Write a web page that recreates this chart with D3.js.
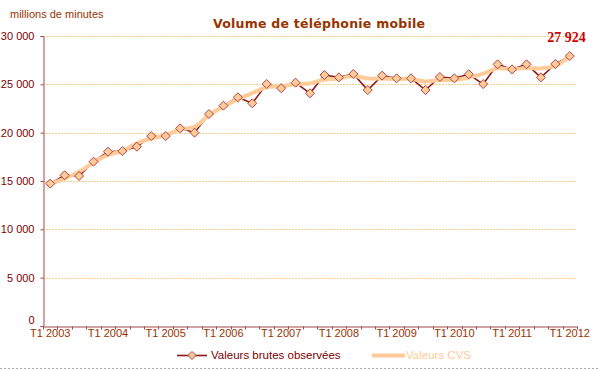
<!DOCTYPE html>
<html><head><meta charset="utf-8">
<script src="https://cdn.jsdelivr.net/npm/d3@7"></script>
<style>
html,body{margin:0;padding:0;background:#fff;}
svg{display:block;}
text{font-family:"Liberation Sans",Arial,sans-serif;}
</style></head>
<body>
<svg id="chart" width="598" height="370"></svg>
<script>
const categories = [
 "T1 2003","T2 2003","T3 2003","T4 2003",
 "T1 2004","T2 2004","T3 2004","T4 2004",
 "T1 2005","T2 2005","T3 2005","T4 2005",
 "T1 2006","T2 2006","T3 2006","T4 2006",
 "T1 2007","T2 2007","T3 2007","T4 2007",
 "T1 2008","T2 2008","T3 2008","T4 2008",
 "T1 2009","T2 2009","T3 2009","T4 2009",
 "T1 2010","T2 2010","T3 2010","T4 2010",
 "T1 2011","T2 2011","T3 2011","T4 2011",
 "T1 2012"];
const rawValues = [14730,15590,15520,17000,18030,18100,18550,19650,19650,20450,20000,21930,22790,23660,23040,25030,24600,25170,24070,25960,25720,26070,24410,25900,25620,25620,24410,25760,25620,26040,25030,27070,26550,27070,25720,27100,27924];
const cvsValues = [14700,15250,15950,16900,17700,18100,18900,19400,19750,20350,20600,21800,22700,23450,24100,24700,24800,25000,25100,25500,25600,25860,25600,25600,25550,25550,25300,25450,25450,25700,26100,26650,26550,26700,26650,26900,27924];
const yTicks = [0,5000,10000,15000,20000,25000,30000];
const title = "Volume de téléphonie mobile";
const yUnit = "millions de minutes";
const lastLabel = "27 924";
const legendNames = ["Valeurs brutes observées","Valeurs CVS"];

const svg = d3.select("#chart");
const pL = 43, pR = 577, pT = 36, pB = 326;
const x = d3.scaleBand().domain(categories).range([pL, pR]).padding(0);
const y = d3.scaleLinear().domain([0, 30000]).range([pB, pT]);
const cx = c => x(c) + x.bandwidth() / 2;
const fmt = v => d3.format(",")(v).replace(/,/g, " ");

// gridlines
svg.append("g").selectAll("line").data(yTicks.filter(v => v > 0)).join("line")
  .attr("x1", pL).attr("x2", pR)
  .attr("y1", d => Math.round(y(d)) + 0.5).attr("y2", d => Math.round(y(d)) + 0.5)
  .attr("stroke", "#FFCC88").attr("stroke-width", 1).attr("stroke-dasharray", "2,1");

// y axis
const ya = svg.append("g").attr("transform", `translate(${pL + 0.5},0)`)
  .call(d3.axisLeft(y).tickValues(yTicks).tickSize(3).tickPadding(6).tickFormat(fmt));
ya.select(".domain").attr("stroke", "#A04848");
ya.selectAll(".tick line").attr("stroke", "#A04848");
ya.selectAll(".tick text").attr("fill", "#800000").style("font-size", "11px")
  .style("font-family", "Liberation Sans, Arial, sans-serif");
ya.selectAll(".tick text").filter(d => d === 0).attr("dy", "-0.2em");

// x axis
const xa = svg.append("g").attr("transform", `translate(0,${pB + 0.5})`)
  .call(d3.axisBottom(x).tickValues(categories.filter(c => c.startsWith("T1"))).tickSize(0).tickPadding(3));
xa.select(".domain").attr("stroke", "#A04848");
xa.selectAll(".tick text").attr("fill", "#993300").style("font-size", "11px")
  .style("font-family", "Liberation Sans, Arial, sans-serif");
xa.selectAll(".bt").data(categories.map(c => x(c)).concat([pR])).join("line")
  .attr("class", "bt")
  .attr("x1", d => Math.round(d) + 0.5).attr("x2", d => Math.round(d) + 0.5)
  .attr("y1", 0).attr("y2", 3).attr("stroke", "#A04848");

// raw line
const lineRaw = d3.line().x((d, i) => cx(categories[i])).y(d => y(d));
svg.append("path").datum(rawValues).attr("d", lineRaw)
  .attr("fill", "none").attr("stroke", "#8B1A1A").attr("stroke-width", 1.6);

// CVS smoothed line
const lineCvs = d3.line().x((d, i) => cx(categories[i])).y(d => y(d)).curve(d3.curveCatmullRom.alpha(0.5));
svg.append("path").datum(cvsValues).attr("d", lineCvs)
  .attr("fill", "none").attr("stroke", "#FFCC99").attr("stroke-width", 4).attr("stroke-linejoin", "round");

// markers
svg.append("g").selectAll("path").data(rawValues).join("path")
  .attr("transform", (d, i) => `translate(${cx(categories[i])},${y(d)})`)
  .attr("d", "M0,-4.5L4.5,0L0,4.5L-4.5,0Z")
  .attr("fill", "#FFCC99").attr("stroke", "#B04444").attr("stroke-width", 1);

// last value label
svg.append("text").attr("x", cx(categories[categories.length - 1]) + 16).attr("y", 42)
  .attr("text-anchor", "end").attr("fill", "#CC0000")
  .style("font-family", "Liberation Serif, Times New Roman, serif").style("font-weight", "bold").style("font-size", "14px")
  .text(lastLabel);

// title
svg.append("text").attr("x", 213).attr("y", 28).attr("fill", "#993300")
  .style("font-family", "DejaVu Sans, Verdana, sans-serif").style("font-weight", "bold").style("font-size", "12.5px")
  .attr("textLength", 212).attr("lengthAdjust", "spacing")
  .text(title);

// unit
svg.append("text").attr("x", 10).attr("y", 18).attr("fill", "#993300").style("font-size", "11px").text(yUnit);

// legend
const ly = 355;
const lg = svg.append("g");
lg.append("line").attr("x1", 177).attr("x2", 207).attr("y1", ly + 0.5).attr("y2", ly + 0.5)
  .attr("stroke", "#8B1A1A").attr("stroke-width", 1.6);
lg.append("path").attr("transform", `translate(192,${ly + 0.5})`).attr("d", "M0,-4L4,0L0,4L-4,0Z")
  .attr("fill", "#FFCC99").attr("stroke", "#B04444");
lg.append("text").attr("x", 211).attr("y", ly + 4).attr("fill", "#800000").style("font-size", "11.5px").text(legendNames[0]);
lg.append("line").attr("x1", 372).attr("x2", 405).attr("y1", ly + 0.5).attr("y2", ly + 0.5)
  .attr("stroke", "#FFCC99").attr("stroke-width", 4);
lg.append("text").attr("x", 406).attr("y", ly + 4).attr("fill", "#FFCC99").style("font-size", "11.5px").text(legendNames[1]);

// bottom dashed border
svg.append("line").attr("x1", 0).attr("x2", 598).attr("y1", 368.5).attr("y2", 368.5)
  .attr("stroke", "#AAAAAA").attr("stroke-dasharray", "2,2");
</script>
</body></html>
